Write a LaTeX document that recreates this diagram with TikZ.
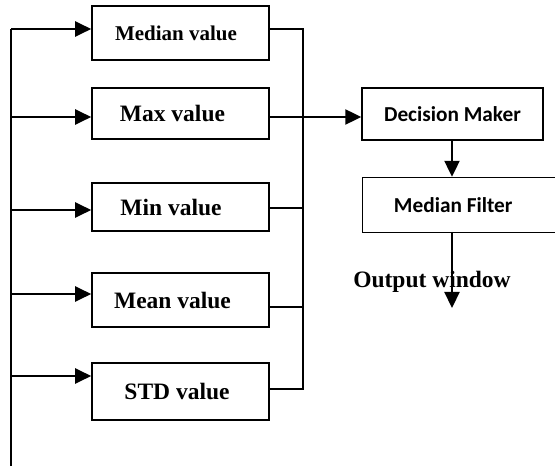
\documentclass[tikz,border=0pt]{standalone}
\usepackage{fontspec}
\setmainfont{Liberation Serif}
\newfontfamily\calib{Carlito}
\usetikzlibrary{arrows.meta}
\begin{document}
\begin{tikzpicture}[x=1pt,y=-1pt,
  valbox/.style={draw,line width=1.6pt,minimum width=177pt,inner sep=0pt,font=\fontsize{23.5}{25}\selectfont\bfseries},
  procbox/.style={draw,line width=1.4pt,inner sep=0pt,font=\calib\fontsize{21.3}{23}\selectfont\bfseries},
  feed/.style={line width=2.2pt,-{Triangle[length=16pt,width=15pt]}},
  coll/.style={line width=1.6pt},
  main/.style={line width=2.2pt}]
\useasboundingbox (0,0) rectangle (555,468);
\clip (0,0) rectangle (555,468);
% value boxes
\node[valbox,minimum height=54pt,font=\fontsize{21}{23}\selectfont\bfseries] (med) at (180.5,33) {\hspace{-9pt}Median value};
\node[valbox,minimum height=51pt] (max) at (180.5,113.5) {\hspace{-16pt}Max value};
\node[valbox,minimum height=48pt] (min) at (180.5,207) {\hspace{-19pt}Min value};
\node[valbox,minimum height=54pt] (mean) at (180.5,300) {\hspace{-16pt}Mean value};
\node[valbox,minimum height=57pt] (std) at (180.5,391.5) {\hspace{-7pt}STD value};
% input bus
\coordinate (bt) at (11,29);
\coordinate (bb) at (11,466);
\draw[main] (bb) -- (bt);
\coordinate (i2) at (11,117);
\coordinate (i3) at (11,210);
\coordinate (i4) at (11,294);
\coordinate (i5) at (11,376);
\draw[feed] (bt) -- (bt -| med.west);
\draw[feed] (i2) -- (i2 -| max.west);
\draw[feed] (i3) -- (i3 -| min.west);
\draw[feed] (i4) -- (i4 -| mean.west);
\draw[feed] (i5) -- (i5 -| std.west);
% right collector
\coordinate (c1) at (303,29);
\coordinate (c5) at (303,389);
\draw[coll] (med.east |- c1) -- (c1) -- (c5) -- (std.east |- c5);
\coordinate (c3) at (303,208);
\coordinate (c4) at (303,307);
\draw[coll] (min.east |- c3) -- (c3);
\draw[coll] (mean.east |- c4) -- (c4);
% decision maker
\node[procbox,minimum width=181pt,minimum height=52pt] (dm) at (452.5,114) {Decision Maker};
\coordinate (m2) at (300,117);
\draw[feed] (max.east |- m2) -- (dm.west |- m2);
\node[procbox,minimum width=200pt,minimum height=55pt,anchor=west] (mf) at (362,205) {\hspace{-19pt}Median Filter};
\coordinate (dmb) at (452,140);
\draw[feed] (dmb) -- (dmb |- mf.north);
\node[font=\fontsize{23.5}{25}\selectfont\bfseries] (out) at (432,282) {Output window};
\coordinate (mfb) at (452,232);
\coordinate (oe) at (452,308);
\draw[feed] (mfb) -- (oe);
\end{tikzpicture}
\end{document}
